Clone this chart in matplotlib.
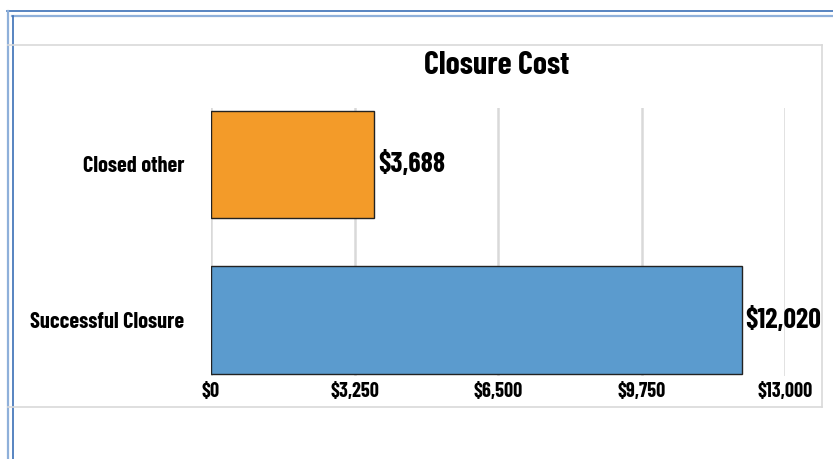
import matplotlib
matplotlib.use("Agg")
import matplotlib.pyplot as plt
from matplotlib.lines import Line2D

categories = ["Successful Closure", "Closed other"]
costs = [12020, 3688]
bar_colors = ["#5b9bce", "#f39b29"]
tick_values = [0, 3250, 6500, 9750, 13000]

# condensed bold font, falls back to DejaVu if missing
plt.rcParams["font.family"] = ["Barlow Condensed", "DejaVu Sans"]
plt.rcParams["font.weight"] = "bold"

W, H = 833, 459
fig = plt.figure(figsize=(W / 100, H / 100), dpi=100)

def px(x, y):
    return x / W, 1 - y / H

def fline(x0, y0, x1, y1, color, lw):
    (a, b), (c, d) = px(x0, y0), px(x1, y1)
    fig.add_artist(Line2D([a, c], [b, d], color=color, lw=lw, transform=fig.transFigure))

# outer blue frame lines
fline(7, 11, W, 11, "#3b6fb6", 1.2)
fline(12, 15.5, W, 15.5, "#8fb0da", 1.6)
fline(8, 11, 8, H, "#8fb0da", 1.6)
fline(12.5, 15.5, 12.5, H, "#3b6fb6", 1.2)

# light gray chart box
fline(8, 45, 822, 45, "#d9d9d9", 1.2)
fline(8, 407, 822, 407, "#d9d9d9", 1.2)
fline(822, 45, 822, 407, "#d9d9d9", 1.2)

l, t = px(211, 108)
r, b = px(785, 376)
ax = fig.add_axes([l, b, r - l, t - b])

ypos = list(range(len(categories)))
ax.barh(ypos, costs, height=0.69, color=bar_colors, edgecolor="#222222", linewidth=1, zorder=3)

for y, v in zip(ypos, costs):
    ax.text(v + 90, y, f"${v:,}", va="center", ha="left", fontsize=20, fontweight="bold", zorder=4)

ax.set_xlim(0, 13000)
ax.set_ylim(-0.36, 1.363)
ax.set_xticks(tick_values)
ax.set_xticklabels([f"${v:,}" for v in tick_values], fontsize=14.5, fontweight="bold")
ax.set_yticks(ypos)
ax.set_yticklabels(categories, fontsize=16, fontweight="bold")
ax.tick_params(axis="both", length=0)
ax.tick_params(axis="x", pad=4)
ax.tick_params(axis="y", pad=19)
ax.grid(axis="x", color="#d9d9d9", linewidth=1.8, zorder=0)
ax.set_axisbelow(True)
for s in ax.spines.values():
    s.set_visible(False)

tx, ty = px(497, 66)
fig.text(tx, ty, "Closure Cost", ha="center", va="center", fontsize=23, fontweight="bold")

fig.savefig("out.png", dpi=100)
